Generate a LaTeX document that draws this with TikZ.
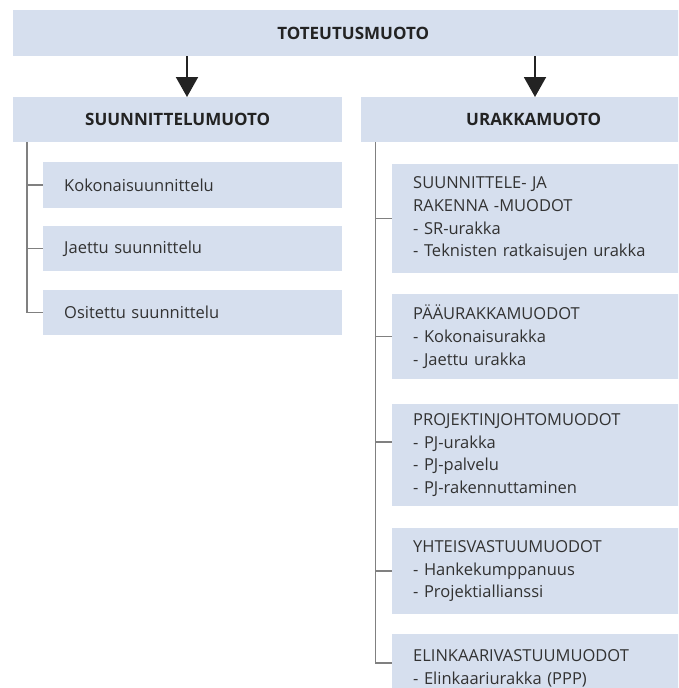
\documentclass[tikz,border=0pt]{standalone}
\usepackage{fontspec}
\setmainfont{Open Sans}
\usetikzlibrary{arrows.meta,calc}
\definecolor{boxfill}{RGB}{214,223,238}
\definecolor{txt}{RGB}{50,50,50}
\definecolor{headtxt}{RGB}{35,35,35}
\definecolor{treeline}{RGB}{128,128,128}
\definecolor{arrowcol}{RGB}{35,35,35}
\begin{document}
\begin{tikzpicture}[x=1pt,y=-1pt,
  box/.style={fill=boxfill, draw=none, inner sep=0pt},
  head/.style={box, text=headtxt, font=\fontsize{17}{20}\selectfont\bfseries},
  litem/.style={box, text=txt, text width=257pt, inner xsep=21pt, inner ysep=0pt, align=left,
    font=\fontsize{16.5}{22.7}\selectfont},
  ritem/.style={box, text=txt, text width=250pt, inner xsep=21pt, inner ysep=0pt, align=left,
    font=\fontsize{16.5}{22.7}\selectfont},
  arr/.style={draw=arrowcol, line width=2pt, -{Triangle[width=22pt,length=20pt]}},
  tree/.style={draw=treeline, line width=1.5pt}]
\useasboundingbox (0,0) rectangle (678,688);
\clip (0,0) rectangle (678,688);
% headers
\node[head, anchor=north west, minimum width=680pt, minimum height=46pt] (top) at (13,10) {TOTEUTUSMUOTO};
\node[head, anchor=north west, minimum width=329pt, minimum height=45pt] (suun) at (13,97) {SUUNNITTELUMUOTO};
\node[head, anchor=north west, minimum width=345pt, minimum height=45pt] (urak) at (361,97) {URAKKAMUOTO};
% left items
\node[litem, anchor=north west, minimum height=46pt] (koko) at (43,162) {Kokonaisuunnittelu};
\node[litem, anchor=north west, minimum height=45pt] (jaet) at (43,226) {Jaettu suunnittelu};
\node[litem, anchor=north west, minimum height=45pt] (osit) at (43,290) {Ositettu suunnittelu};
% right items
\node[ritem, anchor=north west, minimum height=109pt] (sr) at (392,164)
  {SUUNNITTELE- JA\\RAKENNA -MUODOT\\- SR-urakka\\- Teknisten ratkaisujen urakka};
\node[ritem, anchor=north west, minimum height=85pt] (paa) at (392,294)
  {PÄÄURAKKAMUODOT\\- Kokonaisurakka\\- Jaettu urakka};
\node[ritem, anchor=north west, minimum height=102pt] (pj) at (392,404)
  {PROJEKTINJOHTOMUODOT\\- PJ-urakka\\- PJ-palvelu\\- PJ-rakennuttaminen};
\node[ritem, anchor=north west, minimum height=86pt] (yht) at (392,528)
  {YHTEISVASTUUMUODOT\\- Hankekumppanuus\\- Projektiallianssi};
\node[ritem, anchor=north west, minimum height=68pt] (eli) at (392,634)
  {ELINKAARIVASTUUMUODOT\\- Elinkaariurakka (PPP)};
% arrows
\coordinate (la) at (187,0);
\coordinate (ra) at (535,0);
\draw[arr] (top.south -| la) -- (suun.north -| la);
\draw[arr] (top.south -| ra) -- (urak.north -| ra);
% left tree
\coordinate (lx) at (27,0);
\draw[tree] (suun.south -| lx) |- (osit.west);
\draw[tree] (lx |- koko.west) -- (koko.west);
\draw[tree] (lx |- jaet.west) -- (jaet.west);
% right tree
\coordinate (rx) at (375.5,0);
\coordinate (elib) at ([yshift=5pt]eli.west);
\coordinate (pjb) at ([yshift=13pt]pj.west);
\draw[tree] (urak.south -| rx) |- (elib);
\draw[tree] (rx |- sr.west) -- (sr.west);
\draw[tree] (rx |- paa.west) -- (paa.west);
\draw[tree] (rx |- pjb) -- (pjb);
\draw[tree] (rx |- yht.west) -- (yht.west);
\end{tikzpicture}
\end{document}
